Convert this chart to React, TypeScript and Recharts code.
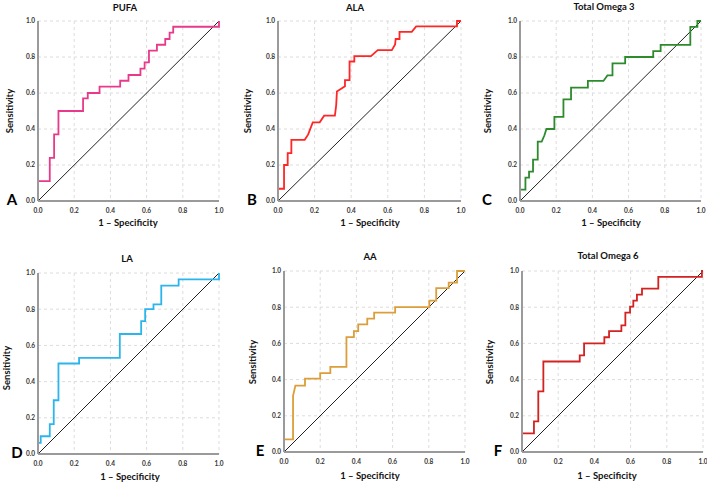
import React from "react";
import { LineChart, Line, XAxis, YAxis, CartesianGrid } from "recharts";

// vertices of each ROC step curve (1 - specificity, sensitivity)
const pufaFpr = [0, 0, 0.065, 0.065, 0.089, 0.089, 0.113, 0.113, 0.249, 0.249, 0.275, 0.275, 0.34, 0.34, 0.454, 0.454, 0.5, 0.5, 0.566, 0.566, 0.589, 0.589, 0.613, 0.613, 0.657, 0.657, 0.703, 0.703, 0.727, 0.727, 0.747, 0.747, 1, 1];
const pufaTpr = [0, 0.11, 0.11, 0.24, 0.24, 0.37, 0.37, 0.5, 0.5, 0.57, 0.57, 0.6, 0.6, 0.635, 0.635, 0.668, 0.668, 0.7, 0.7, 0.735, 0.735, 0.77, 0.77, 0.835, 0.835, 0.868, 0.868, 0.9, 0.9, 0.935, 0.935, 0.968, 0.968, 1];

const alaFpr = [0, 0, 0.033, 0.033, 0.053, 0.053, 0.073, 0.073, 0.146, 0.165, 0.19, 0.228, 0.252, 0.311, 0.318, 0.322, 0.366, 0.366, 0.391, 0.391, 0.417, 0.417, 0.508, 0.545, 0.622, 0.64, 0.643, 0.664, 0.664, 0.731, 0.755, 0.978, 0.978, 1];
const alaTpr = [0, 0.068, 0.068, 0.2, 0.2, 0.266, 0.266, 0.34, 0.34, 0.37, 0.437, 0.437, 0.474, 0.474, 0.533, 0.608, 0.638, 0.672, 0.672, 0.775, 0.775, 0.805, 0.805, 0.838, 0.838, 0.87, 0.9, 0.9, 0.94, 0.94, 0.97, 0.97, 1, 1];

const omega3Fpr = [0, 0, 0.03, 0.03, 0.05, 0.05, 0.072, 0.072, 0.098, 0.098, 0.12, 0.135, 0.146, 0.19, 0.19, 0.24, 0.24, 0.282, 0.282, 0.375, 0.375, 0.461, 0.483, 0.511, 0.511, 0.581, 0.581, 0.736, 0.736, 0.777, 0.777, 0.941, 0.941, 0.98, 0.98, 1];
const omega3Tpr = [0, 0.063, 0.063, 0.13, 0.13, 0.163, 0.163, 0.23, 0.23, 0.33, 0.33, 0.365, 0.4, 0.4, 0.467, 0.467, 0.565, 0.565, 0.63, 0.63, 0.667, 0.667, 0.698, 0.698, 0.765, 0.765, 0.8, 0.8, 0.833, 0.833, 0.867, 0.867, 0.967, 0.967, 1, 1];

const laFpr = [0, 0, 0.015, 0.015, 0.065, 0.065, 0.087, 0.087, 0.113, 0.113, 0.227, 0.227, 0.452, 0.452, 0.57, 0.57, 0.592, 0.592, 0.638, 0.638, 0.681, 0.681, 0.777, 0.777, 1, 1];
const laTpr = [0, 0.062, 0.062, 0.098, 0.098, 0.165, 0.165, 0.297, 0.297, 0.5, 0.5, 0.531, 0.531, 0.663, 0.663, 0.734, 0.734, 0.8, 0.8, 0.827, 0.827, 0.93, 0.93, 0.965, 0.965, 1];

const aaFpr = [0, 0, 0.05, 0.05, 0.063, 0.116, 0.116, 0.2, 0.2, 0.256, 0.256, 0.345, 0.345, 0.386, 0.386, 0.41, 0.41, 0.46, 0.46, 0.498, 0.498, 0.614, 0.614, 0.803, 0.803, 0.841, 0.841, 0.91, 0.91, 0.956, 0.956, 1];
const aaTpr = [0, 0.07, 0.07, 0.31, 0.367, 0.367, 0.405, 0.405, 0.436, 0.436, 0.47, 0.47, 0.635, 0.635, 0.668, 0.668, 0.705, 0.705, 0.737, 0.737, 0.77, 0.77, 0.8, 0.8, 0.836, 0.836, 0.905, 0.905, 0.936, 0.936, 1, 1];

const omega6Fpr = [0, 0, 0.066, 0.066, 0.09, 0.09, 0.118, 0.118, 0.319, 0.319, 0.343, 0.343, 0.455, 0.455, 0.481, 0.481, 0.549, 0.549, 0.571, 0.571, 0.597, 0.597, 0.615, 0.615, 0.635, 0.635, 0.663, 0.663, 0.753, 0.753, 0.994, 0.994, 1];
const omega6Tpr = [0, 0.103, 0.103, 0.169, 0.169, 0.335, 0.335, 0.5, 0.5, 0.534, 0.534, 0.6, 0.6, 0.634, 0.634, 0.668, 0.668, 0.7, 0.7, 0.77, 0.77, 0.803, 0.803, 0.836, 0.836, 0.869, 0.869, 0.903, 0.903, 0.968, 0.968, 1, 1];

const refFpr = [0, 1];
const refTpr = [0, 1];

const ticks = [0, 0.2, 0.4, 0.6, 0.8, 1];
const tickLabels = ["0.0", "0.2", "0.4", "0.6", "0.8", "1.0"];

const toPoints = (xs: number[], ys: number[]) => xs.map((x, i) => ({ x, y: ys[i] }));

const font = "Lato, 'Open Sans', sans-serif";
const YW = 40;
const MT = 5;
const MR = 5;
const XH = 30;

const panels = [
  { title: "PUFA", letter: "A", fpr: pufaFpr, tpr: pufaTpr, color: "#E8398A", plot: [38, 21, 181, 180], t: [125, 8], yl: [10, 111], xl: [128, 223], l: [12, 199] },
  { title: "ALA", letter: "B", fpr: alaFpr, tpr: alaTpr, color: "#FF2626", plot: [278, 21, 183, 180], t: [355, 8], yl: [248, 111], xl: [370, 223], l: [252, 199] },
  { title: "Total Omega 3", letter: "C", fpr: omega3Fpr, tpr: omega3Tpr, color: "#2D8A2D", plot: [520, 21, 181, 180], t: [604, 7], yl: [488, 111], xl: [611, 223], l: [487, 199] },
  { title: "LA", letter: "D", fpr: laFpr, tpr: laTpr, color: "#2BB5EC", plot: [38, 273, 181, 181], t: [127, 259], yl: [7, 368], xl: [130, 477], l: [17, 452] },
  { title: "AA", letter: "E", fpr: aaFpr, tpr: aaTpr, color: "#DB9E3A", plot: [284, 271, 181, 181], t: [370, 257], yl: [253, 362], xl: [370, 476], l: [260, 450] },
  { title: "Total Omega 6", letter: "F", fpr: omega6Fpr, tpr: omega6Tpr, color: "#D32222", plot: [522, 271, 181, 181], t: [608, 256], yl: [490, 362], xl: [607, 476], l: [498, 450] },
];

const centered = (x: number, y: number, extra: React.CSSProperties = {}): React.CSSProperties => ({
  position: "absolute",
  left: x,
  top: y,
  transform: "translate(-50%, -50%)",
  whiteSpace: "nowrap",
  fontFamily: font,
  fontWeight: 700,
  lineHeight: 1,
  color: "#111",
  ...extra,
});

function Panel({ p }: { p: (typeof panels)[number] }) {
  const [px, py, pw, ph] = p.plot;
  const tickStyle = { fontSize: 6.5, fontWeight: 700, fill: "#333", fontFamily: font };
  return (
    <>
      <div style={{ position: "absolute", left: px - YW, top: py - MT }}>
        <LineChart
          width={YW + pw + MR}
          height={MT + ph + XH}
          margin={{ top: MT, right: MR, left: 0, bottom: 0 }}
        >
          <CartesianGrid strokeDasharray="3 3" stroke="#dcdcdc" />
          <XAxis
            type="number"
            dataKey="x"
            domain={[0, 1]}
            ticks={ticks}
            tickFormatter={(v) => tickLabels[ticks.indexOf(v)] ?? String(v)}
            height={XH}
            tick={tickStyle}
            tickLine={false}
            tickSize={4}
            tickMargin={3}
            axisLine={{ stroke: "#9a9a9a", strokeWidth: 2 }}
            allowDuplicatedCategory={false}
          />
          <YAxis
            type="number"
            domain={[0, 1]}
            ticks={ticks}
            tickFormatter={(v) => tickLabels[ticks.indexOf(v)] ?? String(v)}
            width={YW}
            tick={tickStyle}
            tickLine={false}
            tickSize={2}
            tickMargin={1}
            axisLine={{ stroke: "#9a9a9a", strokeWidth: 2 }}
          />
          <Line
            data={toPoints(refFpr, refTpr)}
            dataKey="y"
            type="linear"
            stroke="#222"
            strokeWidth={1}
            dot={false}
            isAnimationActive={false}
          />
          <Line
            data={toPoints(p.fpr, p.tpr)}
            dataKey="y"
            type="linear"
            stroke={p.color}
            strokeWidth={1.8}
            dot={false}
            isAnimationActive={false}
          />
        </LineChart>
      </div>
      <div style={centered(p.t[0], p.t[1], { fontSize: 9.5 })}>{p.title}</div>
      <div style={centered(p.xl[0], p.xl[1], { fontSize: 9.5 })}>1 – Specificity</div>
      <div style={centered(p.yl[0], p.yl[1], { fontSize: 9.5, transform: "translate(-50%, -50%) rotate(-90deg)" })}>
        Sensitivity
      </div>
      <div style={centered(p.l[0], p.l[1], { fontSize: 15, color: "#000" })}>{p.letter}</div>
    </>
  );
}

export default function App() {
  return (
    <div style={{ position: "absolute", left: 0, top: 0, width: 707, height: 485, background: "#fff", overflow: "hidden" }}>
      {panels.map((p) => (
        <Panel key={p.letter} p={p} />
      ))}
    </div>
  );
}
